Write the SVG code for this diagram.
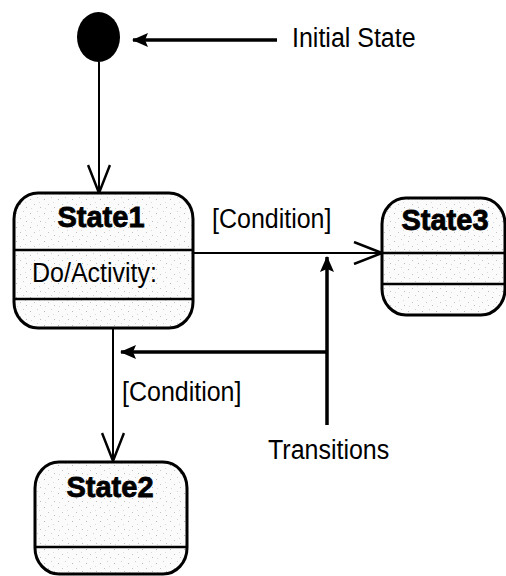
<svg xmlns="http://www.w3.org/2000/svg" width="506" height="576" viewBox="0 0 506 576">
  <defs>
    <!-- light speckled fill used inside the state boxes -->
    <pattern id="speckle" width="14" height="14" patternUnits="userSpaceOnUse">
      <rect width="14" height="14" fill="#fbfbfb"/>
      <rect x="2" y="3" width="1" height="1" fill="#b8b8b8"/>
      <rect x="9" y="1" width="1" height="1" fill="#d0d0d0"/>
      <rect x="6" y="8" width="1" height="1" fill="#c4c4c4"/>
      <rect x="12" y="11" width="1" height="1" fill="#bcbcbc"/>
      <rect x="3" y="12" width="1" height="1" fill="#d8d8d8"/>
      <rect x="11" y="6" width="1" height="1" fill="#dadada"/>
    </pattern>
    <marker id="open" viewBox="0 0 30 24" refX="29" refY="12" markerWidth="30" markerHeight="24" markerUnits="userSpaceOnUse" orient="auto">
      <path d="M1,1 L29,12 L1,23" fill="none" stroke="#000" stroke-width="2.5"/>
    </marker>
    <marker id="solid" viewBox="0 0 16 16" refX="15" refY="8" markerWidth="16" markerHeight="16" markerUnits="userSpaceOnUse" orient="auto">
      <path d="M0,1 L16,8 L0,15 L3,8 Z" fill="#000"/>
    </marker>
  </defs>
  <style>
    .state { fill: url(#speckle); stroke: #000; stroke-width: 3; }
    .div { stroke: #000; stroke-width: 2.5; }
    .title { font-family: "Liberation Sans", Arial, sans-serif; font-weight: bold; font-size: 29px; text-anchor: middle; fill: #000; stroke: #000; stroke-width: 0.8; }
    .label { font-family: "Liberation Sans", Arial, sans-serif; font-size: 25px; fill: #000; }
    .thin { stroke: #000; stroke-width: 2; fill: none; }
    .thick { stroke: #000; stroke-width: 3.5; fill: none; }
  </style>
  <rect width="506" height="576" fill="#fff"/>

  <g id="connectors">
    <line class="thin" x1="99" y1="62" x2="99" y2="193" marker-end="url(#open)"/>
    <line class="thin" x1="193" y1="253" x2="382" y2="253" marker-end="url(#open)"/>
    <line class="thin" x1="113" y1="328" x2="113" y2="461" marker-end="url(#open)"/>
    <line class="thick" x1="277" y1="40" x2="133" y2="40" marker-end="url(#solid)"/>
    <line class="thick" x1="327" y1="425" x2="327" y2="257" marker-end="url(#solid)"/>
    <line class="thick" x1="327" y1="352" x2="121" y2="352" marker-end="url(#solid)"/>
    <text class="label" transform="translate(212,228) scale(1,1.08)">[Condition]</text>
    <text class="label" transform="translate(122,401) scale(1,1.08)">[Condition]</text>
  </g>

  <g id="initial">
    <ellipse cx="98.5" cy="37" rx="21.5" ry="25" fill="#000"/>
  </g>

  <g id="initial-label">
    <text class="label" transform="translate(292,47) scale(1,1.08)">Initial State</text>
  </g>

  <g id="transitions-label">
    <text class="label" transform="translate(268,459) scale(1,1.08)">Transitions</text>
  </g>

  <g id="state1">
    <rect class="state" x="14" y="193" width="179" height="135" rx="24" ry="26"/>
    <line class="div" x1="14" y1="250" x2="193" y2="250"/>
    <line class="div" x1="14" y1="299" x2="193" y2="299"/>
    <text class="title" x="101" y="227">State1</text>
    <text class="label" transform="translate(32,282) scale(1,1.08)">Do/Activity:</text>
  </g>

  <g id="state3">
    <rect class="state" x="382" y="198" width="123" height="117" rx="24" ry="26"/>
    <line class="div" x1="382" y1="253" x2="505" y2="253"/>
    <line class="div" x1="382" y1="284" x2="505" y2="284"/>
    <text class="title" x="445" y="230">State3</text>
  </g>

  <g id="state2">
    <rect class="state" x="35" y="462" width="152" height="112" rx="24" ry="26"/>
    <line class="div" x1="35" y1="547" x2="187" y2="547"/>
    <text class="title" x="110" y="497">State2</text>
  </g>
</svg>
